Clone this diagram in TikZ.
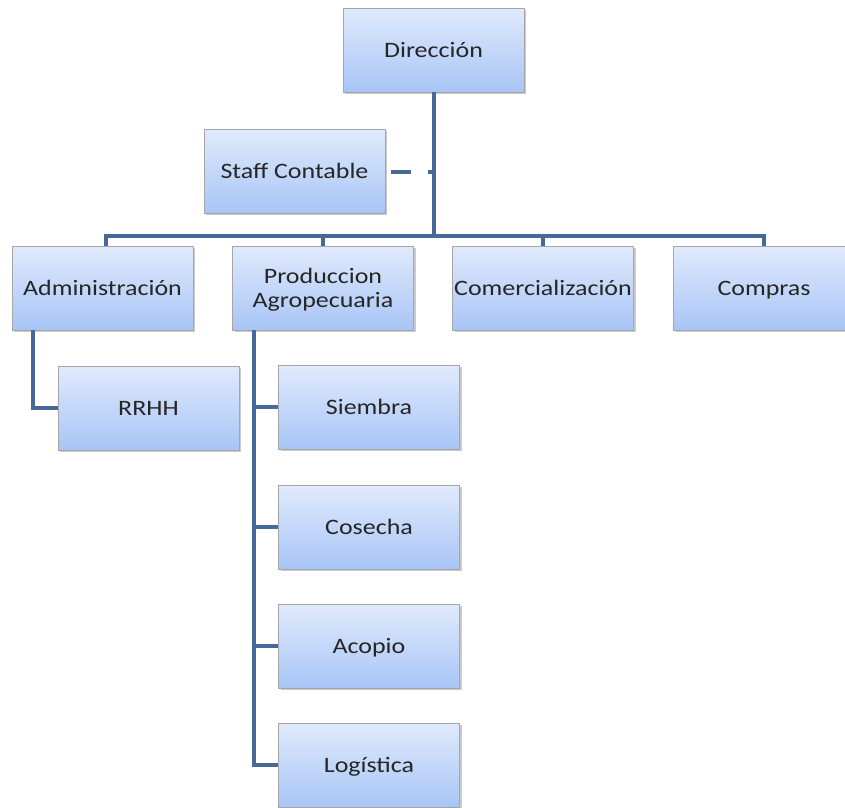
\documentclass[tikz,border=0pt]{standalone}
\usepackage{fontspec}
\setmainfont{Carlito}[FakeStretch=1.18]
\usetikzlibrary{shadows,calc}
\definecolor{linec}{HTML}{46699A}
\definecolor{topc}{HTML}{E0EAFC}
\definecolor{botc}{HTML}{A8C5F6}
\newcommand\onel[1]{\rule[-4pt]{0pt}{22pt}#1}
\tikzset{
  box/.style={draw=gray!70, line width=0.8pt, top color=topc, bottom color=botc,
    minimum width=181pt, minimum height=84pt, inner sep=0pt, align=center,
    font=\fontsize{22}{24}\selectfont, text=black!85,
    drop shadow={shadow xshift=2pt, shadow yshift=-2pt, fill=black!35, opacity=0.6}},
  conn/.style={draw=linec, line width=4pt},
}
\begin{document}
\begin{tikzpicture}[x=1pt,y=-1pt]
\useasboundingbox (0,0) rectangle (845,807);
\node[box] (dir) at (433.5,50) {\onel{Dirección}};
\node[box] (staff) at (294.5,171) {\onel{Staff Contable}};
\node[box] (adm) at (102.5,288) {\onel{Administración}};
\node[box] (prod) at (323,288) {\rule{0pt}{19pt}Produccion\\Agropecuaria\rule[-5pt]{0pt}{5pt}};
\node[box] (com) at (543,288) {\onel{Comercialización}};
\node[box] (cmp) at (764,288) {\onel{Compras}};
\node[box] (rrhh) at (148.5,408) {\onel{RRHH}};
\node[box] (sie) at (369,407) {\onel{Siembra}};
\node[box] (cos) at (369,527) {\onel{Cosecha}};
\node[box] (aco) at (369,646) {\onel{Acopio}};
\node[box] (log) at (369,765) {\onel{Logística}};
\coordinate (bus) at (433.5,236);
\coordinate (st) at (391,172);
% trunk and bus
\draw[conn] (dir.south) -- (bus);
\draw[conn] (adm.north -| 106,0) |- (bus) -| (cmp.north);
\draw[conn] (prod.north) -- (prod.north |- bus);
\draw[conn] (com.north) -- (com.north |- bus);
\draw[conn, dash pattern=on 20pt off 17pt] (st) -- (st -| dir.south);
% Administración -> RRHH
\draw[conn] (adm.south -| 33,0) |- (rrhh.west);
% Produccion -> children
\draw[conn] (prod.south -| 254,0) |- (log.west);
\draw[conn] (254,407) -- (sie.west);
\draw[conn] (254,527) -- (cos.west);
\draw[conn] (254,646) -- (aco.west);
\end{tikzpicture}
\end{document}
